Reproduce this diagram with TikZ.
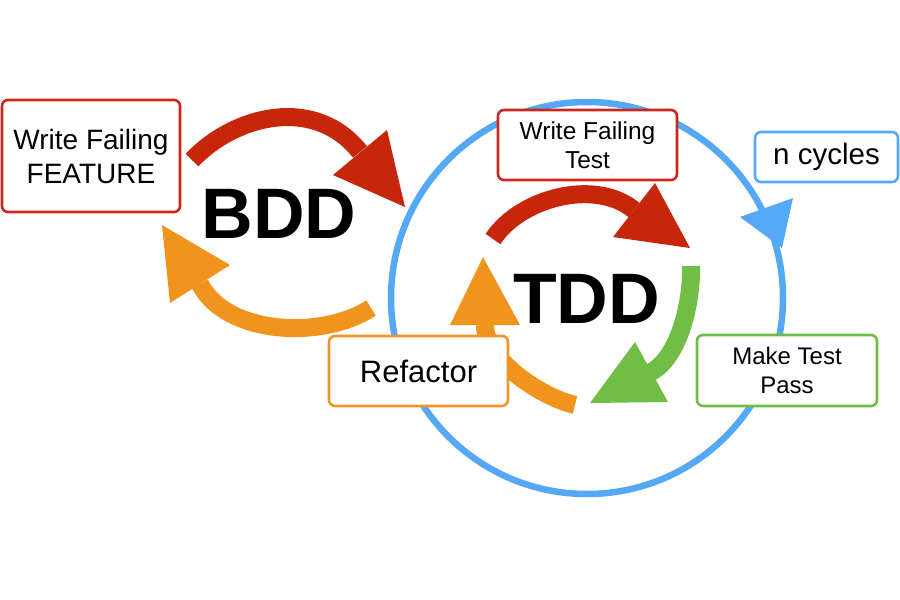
\documentclass[tikz,border=0pt]{standalone}
\usepackage{fontspec}
\setmainfont{Liberation Sans}
\definecolor{arrred}{RGB}{200,38,10}
\definecolor{arrorange}{RGB}{240,148,30}
\definecolor{arrgreen}{RGB}{112,190,70}
\definecolor{circblue}{RGB}{85,168,245}
\definecolor{boxred}{RGB}{200,40,30}
\definecolor{boxorange}{RGB}{240,150,40}
\definecolor{boxgreen}{RGB}{110,190,70}
\newcommand{\fsz}[2]{\fontsize{#1}{#2}\selectfont}
\tikzset{
  stepbox/.style={draw, fill=white, rounded corners=6pt, line width=2.6pt, align=center, inner sep=0pt},
  shaft/.style={line width=18pt},
  bigword/.style={anchor=base, font=\bfseries\fontsize{71.5}{80}\selectfont},
}
\begin{document}
\begin{tikzpicture}[x=1pt,y=-1pt]
\useasboundingbox[fill=white] (0,0) rectangle (900,600);
% blue cycle
\draw[circblue, line width=6.5pt] (587,298) circle [radius=196];
\fill[circblue] (740,217) -- (782,248) -- (793,198) -- cycle;
% BDD arrows
\draw[arrred, shaft] (192,160) .. controls (235,115) and (315,95) .. (360,152);
\fill[arrred] (333,175) -- (405,207) -- (387,130) -- cycle;
\draw[arrorange, shaft] (371,308) .. controls (322,340) and (226,335) .. (200,284);
\fill[arrorange] (230,265) -- (162,225) -- (170,303) -- cycle;
% TDD arrows
\draw[arrred, shaft] (493,239) .. controls (520,198) and (595,178) .. (634,210);
\fill[arrred] (613,237) -- (690,248) -- (655,183) -- cycle;
\draw[arrgreen, shaft] (691,266) .. controls (692,305) and (678,358) .. (651,372);
\fill[arrgreen] (635,342) -- (590,403) -- (668,402) -- cycle;
\draw[arrorange, shaft] (575,405) .. controls (541,397) and (485,360) .. (485,325);
\fill[arrorange] (450,325) -- (483,257) -- (520,325) -- cycle;
% words
\node[bigword] (bdd) at (279,238) {BDD};
\node[bigword] (tdd) at (586.5,323) {TDD};
% boxes
\node[stepbox, draw=boxred, minimum width=178pt, minimum height=112pt, font=\fsz{28}{34}] (feature) at (91,156) {Write Failing\\FEATURE};
\node[stepbox, draw=boxred, minimum width=179pt, minimum height=70pt, font=\fsz{24.5}{29}] (wtest) at (587.5,145) {Write Failing\\Test};
\node[stepbox, draw=circblue, minimum width=143pt, minimum height=50pt, font=\fsz{29.5}{35}] (cycles) at (826.5,157) {n cycles};
\node[stepbox, draw=boxorange, minimum width=179pt, minimum height=70pt, font=\fsz{31}{37}] (refactor) at (418.5,371) {Refactor};
\node[stepbox, draw=boxgreen, minimum width=180pt, minimum height=71pt, font=\fsz{24}{29}] (pass) at (787,370.5) {Make Test\\Pass};
\end{tikzpicture}
\end{document}
